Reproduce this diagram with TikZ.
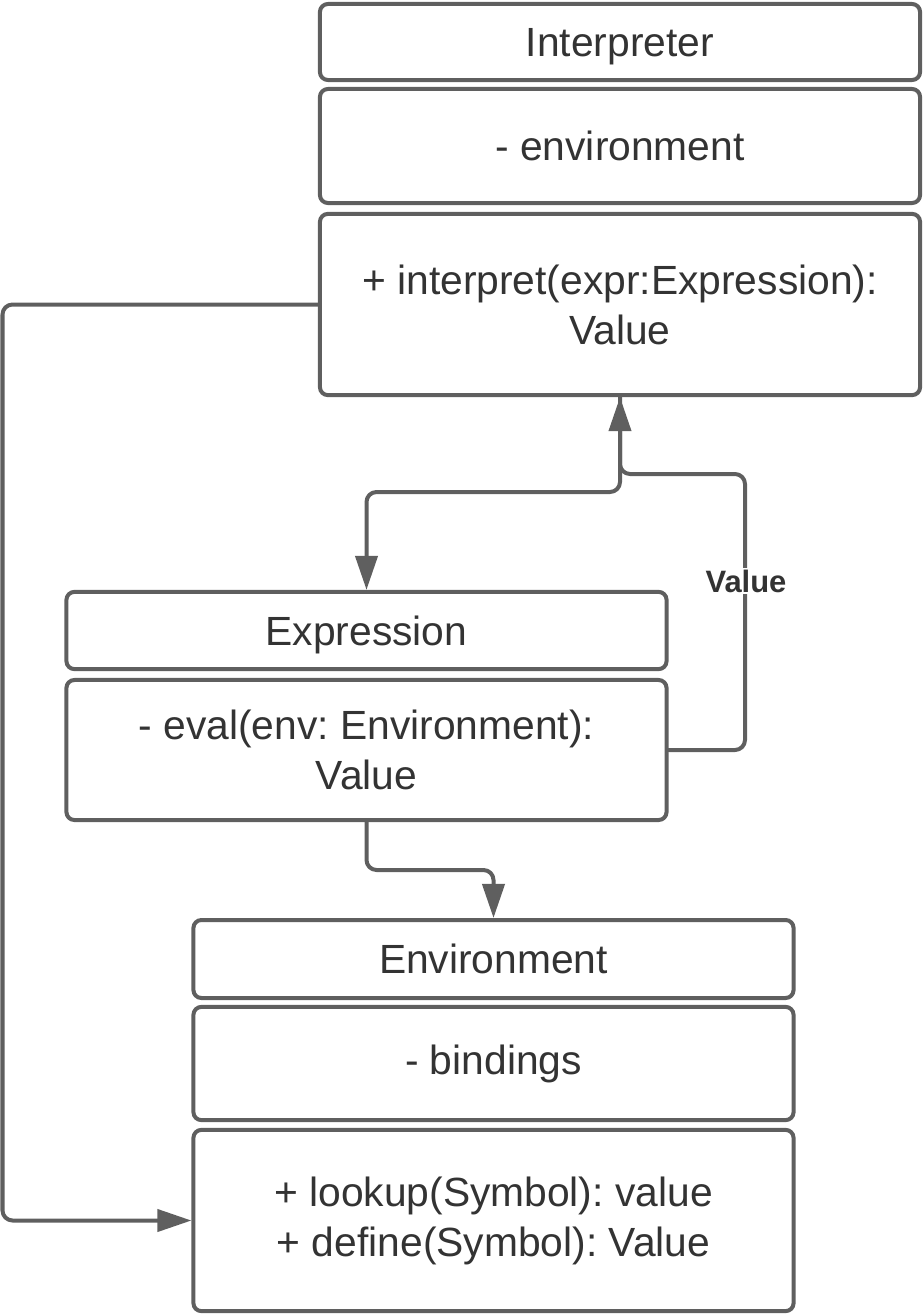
\documentclass[tikz,border=0pt]{standalone}
\usepackage{fontspec}
\setmainfont{Liberation Sans}
\usepackage{tikz}
\usetikzlibrary{arrows.meta}
\definecolor{linegray}{HTML}{5F5F5F}
\definecolor{textgray}{HTML}{333333}
\frenchspacing

\begin{document}
\begin{tikzpicture}[line cap=round,line join=round,x=0.025cm,y=-0.025cm,
  >={Triangle[width=0.55cm,length=0.85cm]},
  umlbox/.style={draw=linegray,line width=0.1cm,rounded corners=0.2cm,fill=white,
    text=textgray,align=center,inner sep=0pt,minimum width=15cm,
    font=\fontsize{29pt}{35.5pt}\selectfont},
  umltitle/.style={umlbox,text height=20.8pt,text depth=0pt},
  flow/.style={draw=linegray,line width=0.1cm,rounded corners=0.25cm,->},
  flowlabel/.style={fill=white,text=textgray,inner sep=1pt,
    font=\fontsize{22pt}{26pt}\selectfont\bfseries}]
\useasboundingbox (0,0) rectangle (924,1316);

\node [umltitle,minimum height=1.9cm] (interpTitle) at (620,42) {Interpreter};
\node [umlbox,minimum height=2.85cm] (interpAttr) at (620,146) {- environment};
\node [umlbox,minimum height=4.53cm] (interpOps) at (620,304.5) {+ interpret(expr:Expression):\\Value};

\node [umltitle,minimum height=1.93cm] (exprTitle) at (366.5,630.5) {Expression};
\node [umlbox,minimum height=3.5cm] (exprOps) at (366.5,750) {- eval(env: Environment):\\Value};

\node [umltitle,minimum height=1.95cm] (envTitle) at (493.5,959) {Environment};
\node [umlbox,minimum height=2.83cm] (envAttr) at (493.5,1063.5) {- bindings};
\node [umlbox,minimum height=4.53cm] (envOps) at (493.5,1220.5) {+ lookup(Symbol): value\\+ define(Symbol): Value};

\coordinate (leftrail) at (2.5,0);
\coordinate (valuerail) at (745,474);

\draw [flow] (interpOps.west) -- (interpOps.west -| leftrail) -- (envOps.west -| leftrail) -- (envOps.west);
\draw [flow] (interpOps.south) -- (interpOps.south |- 0,492) -| (exprTitle.north);
\draw [flow] (exprOps.east) -| (valuerail) -| (interpOps.south);
\draw [flow] (exprOps.south) |- (0,870 -| envTitle.north) -- (envTitle.north);

\node [flowlabel] (valueLabel) at (746,581) {Value};
\end{tikzpicture}
\end{document}
